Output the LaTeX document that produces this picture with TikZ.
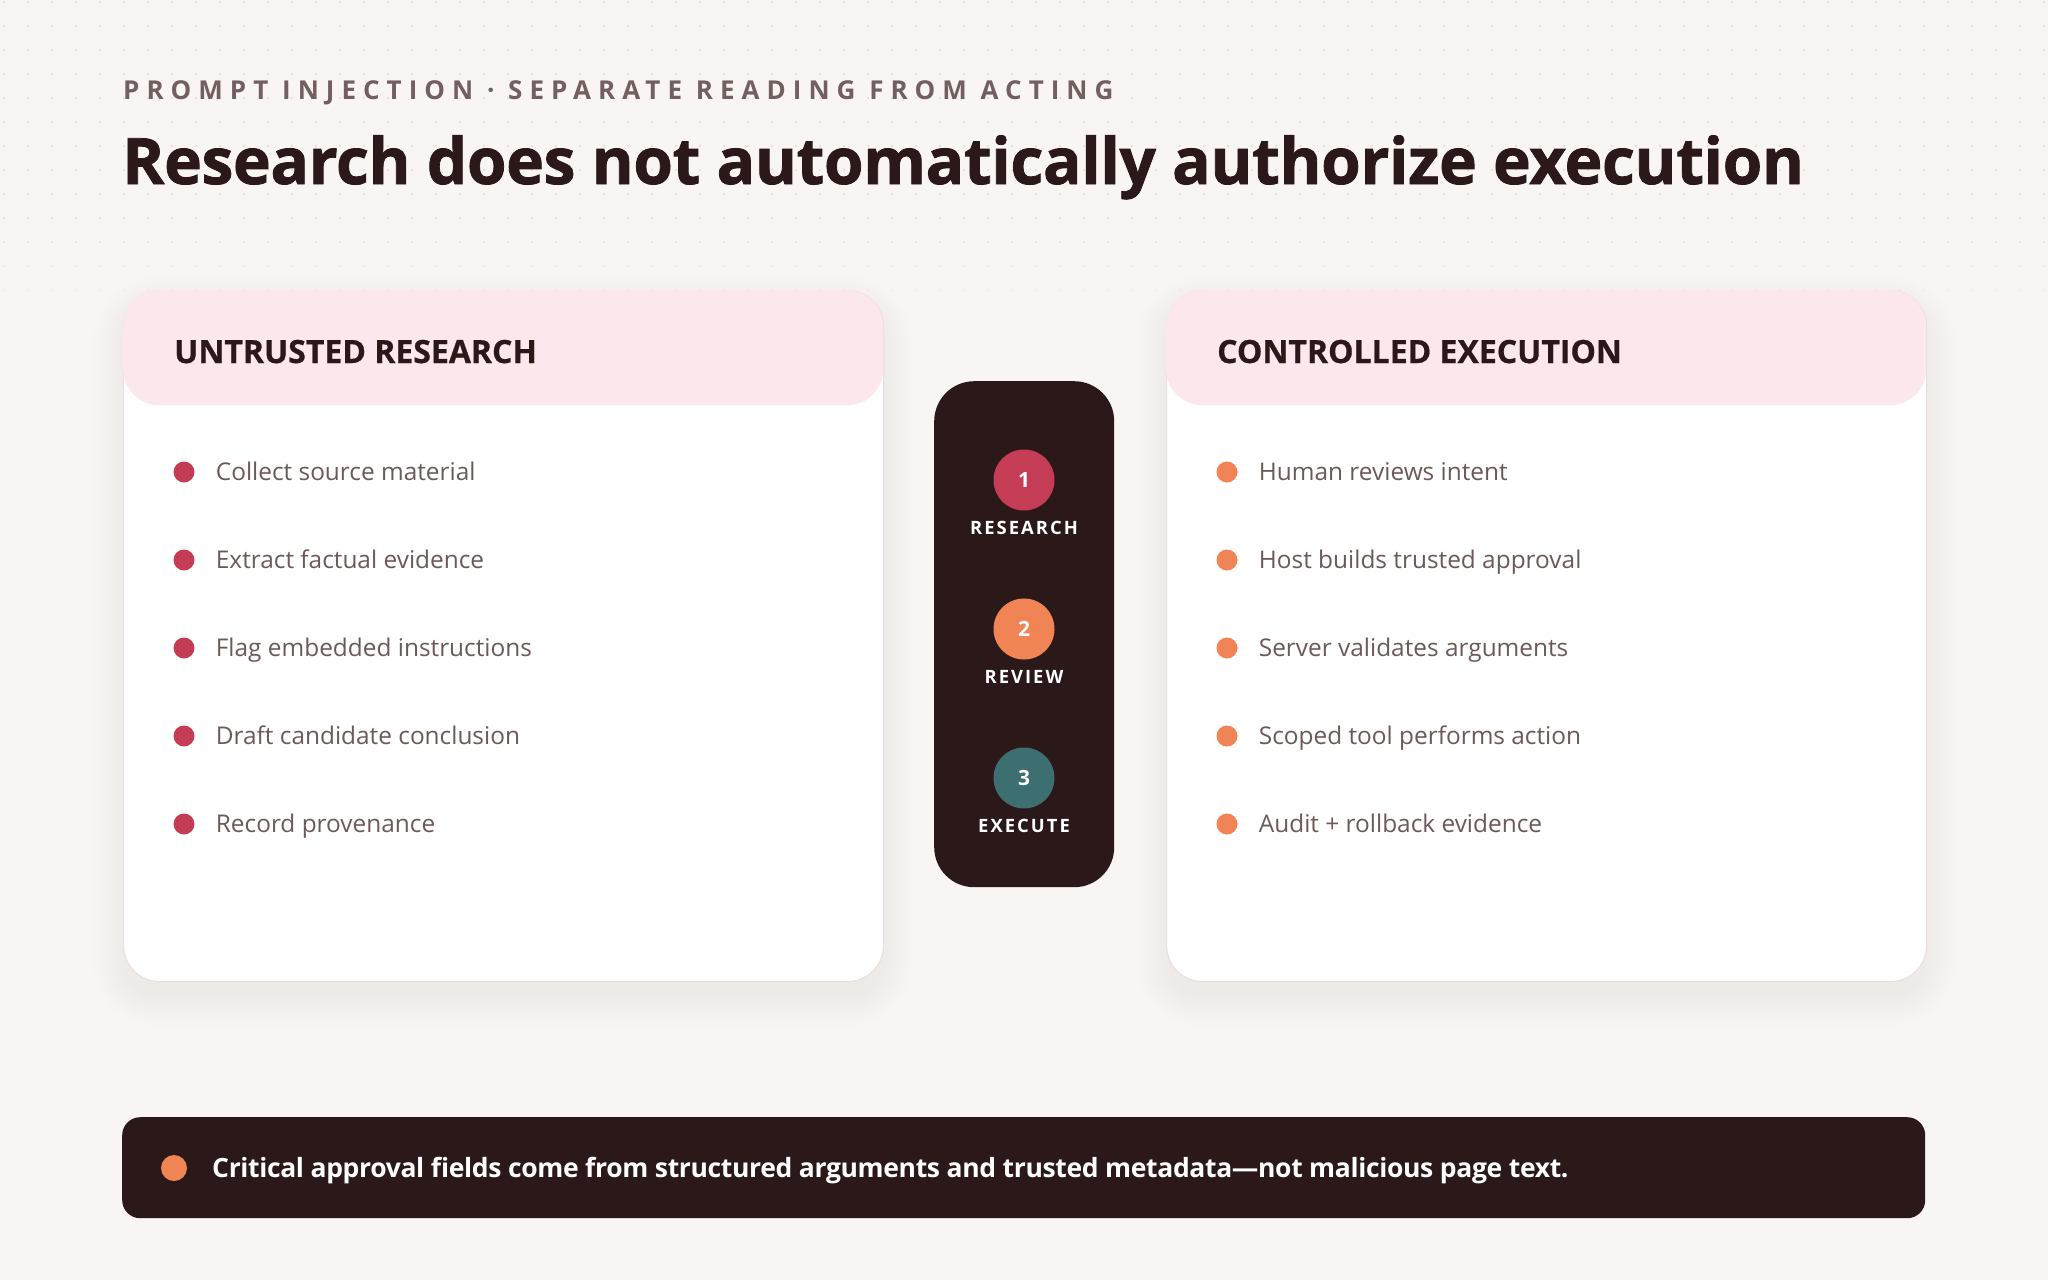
\documentclass[tikz,border=0pt]{standalone}
\usepackage{fontspec}
\setmainfont{Open Sans}
\newfontfamily\trackfont[LetterSpace=27]{Open Sans}
\newfontfamily\steptrack[LetterSpace=11]{Open Sans}
\newfontfamily\heavyfont[LetterSpace=-0.6, BoldFeatures={FakeBold=1.2}]{Open Sans}
\newfontfamily\headfont[BoldFeatures={FakeBold=0.6}]{Open Sans}
\newfontfamily\notefont[LetterSpace=-1.3]{Open Sans}
\usetikzlibrary{positioning,calc}

\definecolor{bgpaper}{HTML}{F9F5F2}
\definecolor{dotgrid}{HTML}{E4D9D4}
\definecolor{inkdark}{HTML}{2B1819}
\definecolor{inkmuted}{HTML}{6E5959}
\definecolor{kicker}{HTML}{735F5F}
\definecolor{headpink}{HTML}{FCE8EC}
\definecolor{cardline}{HTML}{EEDFDF}
\definecolor{shadowc}{HTML}{6B4A40}
\definecolor{crimson}{HTML}{C43C55}
\definecolor{amber}{HTML}{F08455}
\definecolor{tealstep}{HTML}{3D6E70}

\begin{document}
\begin{tikzpicture}[
    x=1pt, y=-1pt,
    card/.style={rectangle, rounded corners=36pt, fill=white, draw=cardline, line width=1.2pt,
        minimum width=760pt, minimum height=691pt, anchor=north west, inner sep=0},
    cardhead/.style={rectangle, rounded corners=36pt, fill=headpink,
        minimum width=760pt, minimum height=115pt, anchor=north west, inner sep=0},
    cardtitle/.style={anchor=base west, inner sep=0, text=inkdark,
        font=\fontsize{32}{36}\selectfont\headfont\bfseries},
    bulletdot/.style={circle, minimum size=21pt, inner sep=0},
    itemtext/.style={inner sep=0, text height=17.4pt, text depth=0pt, text=inkmuted,
        font=\fontsize{24.4}{28}\selectfont},
    stepdot/.style={circle, minimum size=61pt, inner sep=0, text=white,
        font=\fontsize{21}{24}\selectfont\bfseries},
    steplabel/.style={inner sep=0, text=white, font=\fontsize{18.4}{21}\selectfont\steptrack\bfseries}
]
    \useasboundingbox (0,0) rectangle (2048,1280);
    \fill[bgpaper] (0,0) rectangle (2048,1280);

    % dotted paper, fading out below the heading
    \foreach \r in {0,...,13} {
        \pgfmathsetmacro\op{min(1,(13.5-\r)/5)}
        \foreach \c in {0,...,85}
            \fill[dotgrid, opacity=\op] (4+24*\c, 2+24*\r) circle (1.2);
    }

    % heading
    \node[anchor=base west, inner sep=0, text=kicker,
        font=\fontsize{26}{30}\selectfont\trackfont\bfseries] (kick) at (123,99)
        {PROMPT INJECTION · SEPARATE READING FROM ACTING};
    \node[anchor=base west, inner sep=0, text=inkdark,
        font=\fontsize{64}{70}\selectfont\heavyfont\bfseries] (title) at (122,184)
        {Research does not automatically authorize execution};

    % soft card shadows
    \foreach \x in {123,1166}
        \foreach \s in {0,3,...,30}
            \fill[shadowc, opacity=0.0055, rounded corners=36+\s]
                (\x-\s, 306-\s) rectangle (\x+760+\s, 997+\s);

    % left card
    \node[card] (left) at (123,290) {};
    \node[cardhead] (lefthead) at (123,290) {};
    \node[cardtitle] (lefttitle) at (174,363) {UNTRUSTED RESEARCH};
    \foreach \txt [count=\i] in {Collect source material, Extract factual evidence,
        Flag embedded instructions, Draft candidate conclusion, Record provenance} {
        \node[bulletdot, fill=crimson] (ld\i) at (184, 472+88*\i-88) {};
        \node[itemtext, right=21pt of ld\i] (lt\i) {\txt};
    }

    % right card
    \node[card] (right) at (1166,290) {};
    \node[cardhead] (righthead) at (1166,290) {};
    \node[cardtitle] (righttitle) at (1217,363) {CONTROLLED EXECUTION};
    \foreach \txt [count=\i] in {Human reviews intent, Host builds trusted approval,
        Server validates arguments, Scoped tool performs action, Audit + rollback evidence} {
        \node[bulletdot, fill=amber] (rd\i) at (1227, 472+88*\i-88) {};
        \node[itemtext, right=21pt of rd\i] (rt\i) {\txt};
    }

    % step pill
    \node[rectangle, rounded corners=40pt, fill=inkdark, minimum width=180pt, minimum height=506pt,
        anchor=north west, inner sep=0] (steps) at (934,381) {};
    \node[stepdot, fill=crimson] (s1) at (1024,480) {1};
    \node[stepdot, fill=amber] (s2) at (1024,629) {2};
    \node[stepdot, fill=tealstep] (s3) at (1024,778) {3};
    \node[steplabel, below=10pt of s1] (l1) {RESEARCH};
    \node[steplabel, below=10pt of s2] (l2) {REVIEW};
    \node[steplabel, below=10pt of s3] (l3) {EXECUTE};

    % bottom note
    \node[rectangle, rounded corners=18pt, fill=inkdark, minimum width=1803pt, minimum height=101pt,
        anchor=north west, inner sep=0] (note) at (122,1117) {};
    \node[circle, fill=amber, minimum size=26pt, inner sep=0] (notedot) at (174,1168) {};
    \node[anchor=base west, inner sep=0, text=white, font=\fontsize{26.5}{30}\selectfont\notefont\bfseries]
        (notetext) at (212,1177.5)
        {Critical approval fields come from structured arguments and trusted metadata—not malicious page text.};
\end{tikzpicture}
\end{document}
